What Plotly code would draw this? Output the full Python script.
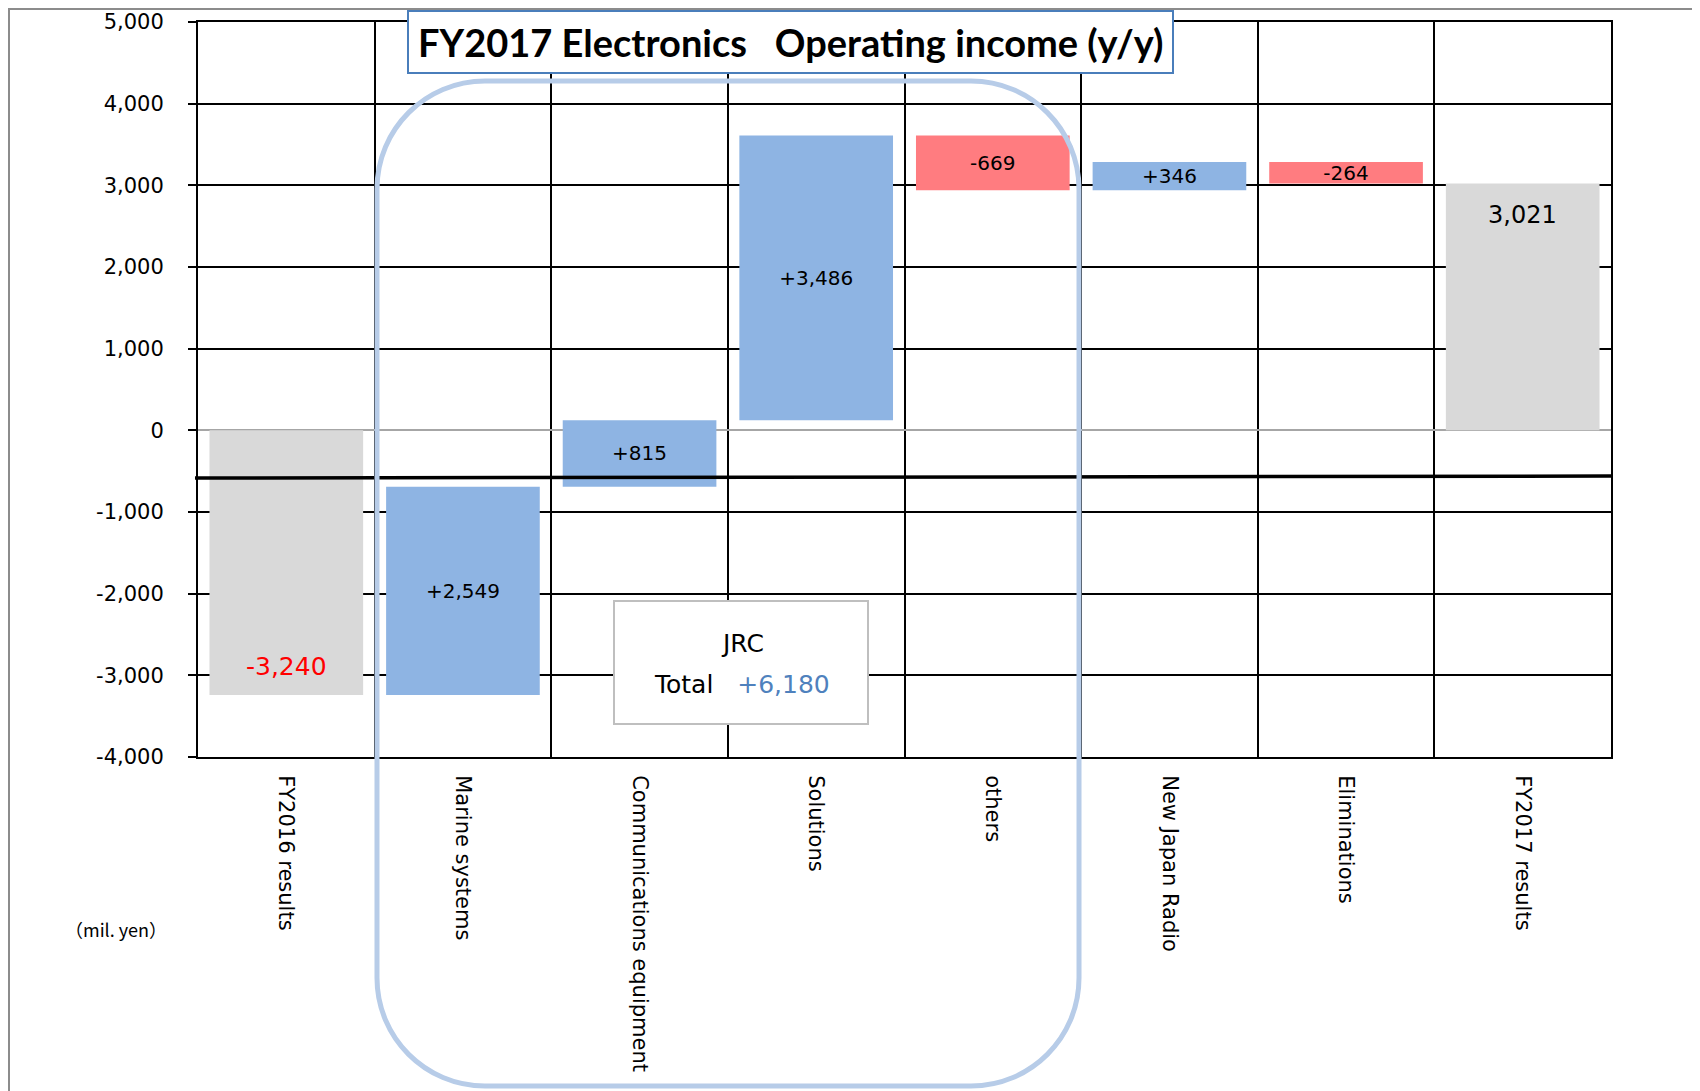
import plotly.graph_objects as go

# ---------------- data ----------------
categories = ["FY2016 results", "Marine systems", "Communications equipment",
              "Solutions", "others", "New Japan Radio", "Eliminations", "FY2017 results"]
kinds = ["total", "delta", "delta", "delta", "delta", "delta", "delta", "total"]
values = [-3240, 2549, 815, 3486, -669, 346, -264, 3021]
bar_labels = ["-3,240", "+2,549", "+815", "+3,486", "-669", "+346", "-264", "3,021"]
y_tick_vals = [-4000, -3000, -2000, -1000, 0, 1000, 2000, 3000, 4000, 5000]
y_tick_text = ["-4,000", "-3,000", "-2,000", "-1,000", "0", "1,000", "2,000", "3,000", "4,000", "5,000"]
jrc_total = 6180
threshold_line = [-584, -560]   # left / right end values of the black reference line

title_text = "FY2017 Electronics\u00a0\u00a0 Operating income (y/y)"
unit_text = "（mil. yen）"

# ---------------- colours ----------------
C_UP = "#8EB4E3"
C_DOWN = "#FF7C80"
C_TOTAL = "#D9D9D9"

# ---------------- layout geometry ----------------
OFF = 8                      # page body margin
W, H = 1700 - OFF, 1091 - OFF
ML, MT = 198 - OFF, 22 - OFF
PR, PB = 1611 - OFF, 757 - OFF
MR, MB = W - PR, H - PB
PW, PH = W - ML - MR, H - MT - MB


def px(x):
    return (x - OFF - ML) / PW


def py(y):
    return (H - MB - (y - OFF)) / PH


# running bases
bases, run = [], 0
for k, v in zip(kinds, values):
    if k == "total":
        bases.append(0)
        run = v
    else:
        bases.append(run)
        run += v

tot_x = [c for c, k in zip(categories, kinds) if k == "total"]
tot_y = [v for v, k in zip(values, kinds) if k == "total"]

d_idx = [i for i, k in enumerate(kinds) if k == "delta"]
d_x = [categories[i] for i in d_idx]
d_y = [values[i] for i in d_idx]
d_b = [bases[i] for i in d_idx]
d_t = [bar_labels[i] for i in d_idx]
d_c = [C_UP if values[i] > 0 else C_DOWN for i in d_idx]

fig = go.Figure()
fig.add_trace(go.Bar(
    x=tot_x, y=tot_y, base=[0] * len(tot_x), width=0.87,
    marker=dict(color=C_TOTAL, line=dict(width=0)), hoverinfo="skip",
))
fig.add_trace(go.Bar(
    x=d_x, y=d_y, base=d_b, width=0.87,
    marker=dict(color=d_c, line=dict(width=0)),
    text=d_t, textposition="inside", insidetextanchor="middle",
    textangle=0, constraintext="none",
    textfont=dict(family="DejaVu Sans", size=20, color="black"),
    hoverinfo="skip",
))

annotations = []
# total labels
for c, k, v, lab in zip(categories, kinds, values, bar_labels):
    if k != "total":
        continue
    if v < 0:
        annotations.append(dict(x=c, y=v, xref="x", yref="y", text=lab, showarrow=False,
                                yshift=28, font=dict(family="DejaVu Sans", size=25, color="#FF0000")))
    else:
        annotations.append(dict(x=c, y=v, xref="x", yref="y", text=lab, showarrow=False,
                                yshift=-31, font=dict(family="DejaVu Sans", size=24, color="black")))

# title
annotations.append(dict(x=px(790.5), y=py(42), xref="paper", yref="paper", text="<b>" + title_text + "</b>",
                        showarrow=False, xanchor="center", yanchor="middle",
                        font=dict(family="Lato", size=38, color="black")))
# JRC box text
annotations.append(dict(x=px(742), y=py(643), xref="paper", yref="paper", text="JRC",
                        showarrow=False, xanchor="center", yanchor="middle",
                        font=dict(family="DejaVu Sans", size=25, color="black")))
annotations.append(dict(x=px(742), y=py(684), xref="paper", yref="paper",
                        text="Total\u00a0\u00a0 <span style='color:#4F81BD'>+" + f"{jrc_total:,}" + "</span>",
                        showarrow=False, xanchor="center", yanchor="middle",
                        font=dict(family="DejaVu Sans", size=25, color="black")))
# unit
annotations.append(dict(x=px(116), y=py(929), xref="paper", yref="paper", text=unit_text,
                        showarrow=False, xanchor="center", yanchor="middle",
                        font=dict(family="Noto Sans CJK JP", size=18, color="black")))

# rounded rectangle path (JRC group)
L, R, T, B, r = 377, 1079, 81, 1086, 108
k = 0.5523 * r


def P(x, y):
    return f"{px(x):.5f},{py(y):.5f}"


path = (f"M {P(L, T + r)} L {P(L, B - r)} "
        f"C {P(L, B - r + k)} {P(L + r - k, B)} {P(L + r, B)} "
        f"L {P(R - r, B)} "
        f"C {P(R - r + k, B)} {P(R, B - r + k)} {P(R, B - r)} "
        f"L {P(R, T + r)} "
        f"C {P(R, T + r - k)} {P(R - r + k, T)} {P(R - r, T)} "
        f"L {P(L + r, T)} "
        f"C {P(L + r - k, T)} {P(L, T + r - k)} {P(L, T + r)} Z")

shapes = [
    # outer frame
    dict(type="rect", xref="paper", yref="paper", x0=px(9), x1=px(1698), y0=py(1100), y1=py(9),
         line=dict(color="#8C8C8C", width=2), fillcolor="rgba(0,0,0,0)", layer="below"),
    # black reference line
    dict(type="line", xref="paper", yref="y", x0=px(195), x1=1.0,
         y0=threshold_line[0], y1=threshold_line[1], line=dict(color="black", width=3.5), layer="above"),
    # JRC rounded group
    dict(type="path", xref="paper", yref="paper", path=path,
         line=dict(color="#B7CCE8", width=5), fillcolor="rgba(0,0,0,0)", layer="above"),
    # title box
    dict(type="rect", xref="paper", yref="paper", x0=px(408), x1=px(1173), y0=py(73), y1=py(11),
         line=dict(color="#4A7EBB", width=2), fillcolor="white", layer="above"),
    # JRC total box
    dict(type="rect", xref="paper", yref="paper", x0=px(614), x1=px(868), y0=py(724), y1=py(601),
         line=dict(color="#BFBFBF", width=2), fillcolor="white", layer="above"),
]

fig.update_layout(
    template="none",
    width=W, height=H,
    margin=dict(l=ML, r=MR, t=MT, b=MB, pad=0, autoexpand=False),
    paper_bgcolor="white", plot_bgcolor="white",
    showlegend=False, barmode="overlay",
    annotations=annotations, shapes=shapes,
    font=dict(family="DejaVu Sans", color="black"),
)
fig.update_xaxes(
    type="category", categoryorder="array", categoryarray=categories,
    tickson="boundaries", showgrid=True, gridcolor="black", gridwidth=2,
    showline=True, linecolor="black", linewidth=2, mirror=True,
    ticks="", tickangle=90, ticklabelstandoff=12, automargin=False,
    tickfont=dict(family="DejaVu Sans", size=21, color="black"),
)
fig.update_yaxes(
    range=[-4000, 5000], tickvals=y_tick_vals, ticktext=y_tick_text,
    showgrid=True, gridcolor="black", gridwidth=2,
    showline=True, linecolor="black", linewidth=2, mirror=True,
    ticks="outside", ticklen=8, tickcolor="black", tickwidth=2,
    ticklabelstandoff=20, automargin=False,
    zeroline=True, zerolinecolor="#A6A6A6", zerolinewidth=2,
    tickfont=dict(family="DejaVu Sans", size=21, color="black"),
)

fig.write_html("out.html")
